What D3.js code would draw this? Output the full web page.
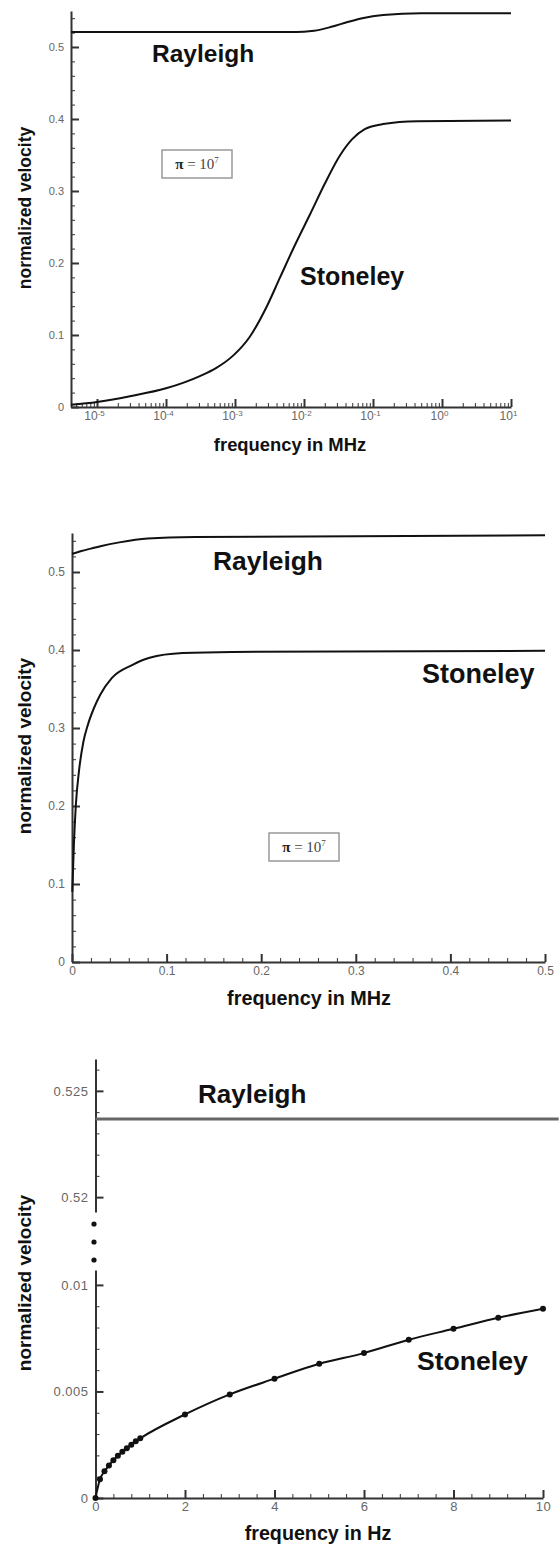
<!DOCTYPE html>
<html>
<head>
    <script src="https://d3js.org/d3.v7.min.js"></script>
    <style>
        body { margin: 0; background: #fff; }
        svg text { font-family: "Liberation Sans", Arial, sans-serif; }
        .tick text { fill: #666; }
        .domain { stroke: #333; stroke-width: 2; }
        .tick line { stroke: #333; }
        .ttl { font-weight: bold; fill: #111; }
    </style>
</head>
<body>
<div id="svg"></div>
<script>
    // panel 1: log frequency (MHz)
    var p1Freq_st = [4.2e-6, 1e-5, 3e-5, 1e-4, 3.1e-4, 5.3e-4, 9.3e-4, 1.65e-3, 2.9e-3, 4.5e-3, 7.4e-3, 1.23e-2, 2.0e-2, 3.3e-2, 5.0e-2, 7.6e-2, 0.14, 0.44, 10]
    var p1Stoneley = [0.003, 0.007, 0.015, 0.026, 0.043, 0.054, 0.071, 0.098, 0.14, 0.18, 0.225, 0.268, 0.31, 0.349, 0.372, 0.386, 0.393, 0.397, 0.398]
    var p1Freq_ra = [4.2e-6, 1e-3, 6e-3, 1e-2, 1.4e-2, 2.5e-2, 4.4e-2, 7e-2, 0.14, 0.5, 10]
    var p1Rayleigh = [0.521, 0.521, 0.521, 0.5213, 0.5225, 0.528, 0.535, 0.540, 0.5445, 0.547, 0.547]

    // panel 2: linear frequency (MHz)
    var p2Freq_st = [0.0003, 0.002, 0.004, 0.0075, 0.012, 0.017, 0.023, 0.030, 0.042, 0.064, 0.082, 0.117, 0.17, 0.5]
    var p2Stoneley = [0.09, 0.15, 0.2, 0.246, 0.282, 0.305, 0.325, 0.343, 0.364, 0.381, 0.39, 0.396, 0.3975, 0.399]
    var p2Freq_ra = [0, 0.01, 0.02, 0.03, 0.05, 0.08, 0.13, 0.5]
    var p2Rayleigh = [0.523, 0.527, 0.530, 0.533, 0.538, 0.543, 0.545, 0.547]

    // panel 3: frequency in Hz, broken y axis
    var p3Freq = [0, 0.1, 0.2, 0.3, 0.4, 0.5, 0.6, 0.7, 0.8, 0.9, 1, 2, 3, 4, 5, 6, 7, 8, 9, 10]
    var p3Stoneley = [0, 0.00088, 0.00125, 0.00153, 0.00177, 0.00198, 0.00217, 0.00234, 0.0025, 0.00266, 0.0028, 0.00392, 0.00486, 0.0056, 0.0063, 0.0068, 0.00743, 0.00794, 0.00846, 0.00888]
    var p3Freq_ra = [0, 10.35]
    var p3Rayleigh = [0.52368, 0.52368]

    var p1xTicks = [1e-5, 1e-4, 1e-3, 1e-2, 1e-1, 1, 10]
    var p1yTicks = [0, 0.1, 0.2, 0.3, 0.4, 0.5]
    var p2xTicks = [0, 0.1, 0.2, 0.3, 0.4, 0.5]
    var p2yTicks = [0, 0.1, 0.2, 0.3, 0.4, 0.5]
    var p3xTicks = [0, 2, 4, 6, 8, 10]
    var p3yTopTicks = [0.52, 0.525]
    var p3yBotTicks = [0, 0.005, 0.01]

    var svg = d3.select("#svg").append("svg")
        .attr("width", 559).attr("height", 1549)

    function pts(xs, ys) { return xs.map(function (d, i) { return [d, ys[i]] }) }

    function drawCurve(g, data, x, y, w) {
        g.append("path")
            .datum(data)
            .attr("d", d3.line().x(function (d) { return x(d[0]) }).y(function (d) { return y(d[1]) }).curve(d3.curveMonotoneX))
            .style("fill", "none").style("stroke", "#111").style("stroke-width", w || 2)
    }

    function yAxis(g, y, ticks, minor, x0, fmt, fs) {
        g.append("g").attr("transform", "translate(" + x0 + ",0)")
            .call(d3.axisLeft(y).tickValues(minor).tickSize(-4).tickSizeOuter(0).tickFormat(""))
            .select(".domain").remove()
        var a = g.append("g").attr("transform", "translate(" + x0 + ",0)")
            .call(d3.axisLeft(y).tickValues(ticks).tickSize(-8).tickSizeOuter(0).tickPadding(7).tickFormat(fmt))
        a.selectAll(".tick line").style("stroke-width", 2)
        a.selectAll(".tick text").style("font-size", fs + "px")
        return a
    }

    function xAxis(g, x, ticks, minor, y0, fmt, fs) {
        g.append("g").attr("transform", "translate(0," + y0 + ")")
            .call(d3.axisBottom(x).tickValues(minor).tickSize(-4).tickSizeOuter(0).tickFormat(""))
            .select(".domain").remove()
        var a = g.append("g").attr("transform", "translate(0," + y0 + ")")
            .call(d3.axisBottom(x).tickValues(ticks).tickSize(-8).tickSizeOuter(0).tickPadding(4).tickFormat(fmt))
        a.selectAll(".tick line").style("stroke-width", 2)
        a.selectAll(".tick text").style("font-size", fs + "px")
        return a
    }

    function piBox(g, cx, cy) {
        g.append("rect").attr("x", cx - 35).attr("y", cy - 14).attr("width", 70).attr("height", 28)
            .style("fill", "#fff").style("stroke", "#999").style("stroke-width", 1.5)
        var t = g.append("text").attr("x", cx).attr("y", cy + 5).attr("text-anchor", "middle")
            .style("font-family", "'Liberation Serif', 'DejaVu Serif', serif").style("font-size", "15px").style("fill", "#444")
        t.append("tspan").text("π").style("font-weight", "bold").style("fill", "#222")
        t.append("tspan").text(" = 10")
        t.append("tspan").attr("dy", -6).style("font-size", "9px").text("7")
    }

    function yTitle(g, x, cy, fs) {
        g.append("text").attr("class", "ttl").attr("transform", "translate(" + x + "," + cy + ") rotate(-90)")
            .attr("text-anchor", "middle").style("font-size", fs + "px").text("normalized velocity")
    }
    function label(g, x, y, fs, txt) {
        g.append("text").attr("class", "ttl").attr("x", x).attr("y", y).style("font-size", fs + "px").text(txt)
    }

    // ---------- panel 1 ----------
    var g1 = svg.append("g")
    var x1 = d3.scaleLog().domain([4.2e-6, 10]).range([71, 511])
    var y1 = d3.scaleLinear().domain([0, 0.55]).range([407, 11])
    var minor1 = []
    for (var e = -6; e <= 0; e++) for (var m = 2; m <= 9; m++) {
        var v = m * Math.pow(10, e)
        if (v >= 4.2e-6 && v < 10) minor1.push(v)
    }
    var minorY1 = d3.range(0.02, 0.55, 0.02).filter(function (d) { return Math.abs(d * 10 - Math.round(d * 10)) > 1e-6 })
    yAxis(g1, y1, p1yTicks, minorY1, 71, function (d) { return d === 0 ? "0" : d3.format(".1f")(d) }, 11)
    var ax1 = xAxis(g1, x1, p1xTicks, minor1, 407, function () { return "" }, 12)
    ax1.selectAll(".tick text").each(function (d) {
        var t = d3.select(this)
        t.text("10").attr("font-size", null).style("font-size", "12px").attr("dx", "-3")
        t.append("tspan").attr("dy", "-0.5em").style("font-size", "8px").text(Math.round(Math.log10(d)))
    })
    drawCurve(g1, pts(p1Freq_ra, p1Rayleigh), x1, y1)
    drawCurve(g1, pts(p1Freq_st, p1Stoneley), x1, y1)
    label(g1, 152, 62, 24.5, "Rayleigh")
    label(g1, 300, 285, 25, "Stoneley")
    piBox(g1, 197, 164)
    yTitle(g1, 31, 208, 17.5)
    g1.append("text").attr("class", "ttl").attr("x", 290).attr("y", 451).attr("text-anchor", "middle")
        .style("font-size", "18.4px").text("frequency in MHz")

    // ---------- panel 2 ----------
    var g2 = svg.append("g")
    var x2 = d3.scaleLinear().domain([0, 0.5]).range([72, 545])
    var y2 = d3.scaleLinear().domain([0, 0.55]).range([962, 533])
    var minorX2 = d3.range(0.02, 0.5, 0.02).filter(function (d) { return Math.abs(d * 10 - Math.round(d * 10)) > 1e-6 })
    yAxis(g2, y2, p2yTicks, minorY1, 72, function (d) { return d === 0 ? "0" : d3.format(".1f")(d) }, 12)
    xAxis(g2, x2, p2xTicks, minorX2, 962, function (d) { return d === 0 ? "0" : d3.format(".1f")(d) }, 12)
    drawCurve(g2, pts(p2Freq_ra, p2Rayleigh), x2, y2)
    drawCurve(g2, pts(p2Freq_st, p2Stoneley), x2, y2)
    label(g2, 213, 570, 26.4, "Rayleigh")
    label(g2, 422, 683, 27, "Stoneley")
    piBox(g2, 304, 847)
    yTitle(g2, 31, 746, 19)
    g2.append("text").attr("class", "ttl").attr("x", 309).attr("y", 1005).attr("text-anchor", "middle")
        .style("font-size", "19.8px").text("frequency in MHz")

    // ---------- panel 3 ----------
    var g3 = svg.append("g")
    var x3 = d3.scaleLinear().domain([0, 10]).range([95.5, 543])
    var y3t = d3.scaleLinear().domain([0.5193, 0.5265]).range([1212, 1059])
    var y3b = d3.scaleLinear().domain([0, 0.0107]).range([1498, 1270])
    var minorX3 = d3.range(0.4, 10, 0.4).filter(function (d) { return Math.abs(d / 2 - Math.round(d / 2)) > 1e-6 })
    var minorT = [0.521, 0.522, 0.523, 0.524, 0.526]
    var minorB = [0.001, 0.002, 0.003, 0.004, 0.006, 0.007, 0.008, 0.009]
    yAxis(g3, y3t, p3yTopTicks, minorT, 95.5, function (d) { return d3.format(d === 0.52 ? ".2f" : ".3f")(d) }, 13)
    yAxis(g3, y3b, p3yBotTicks, minorB, 95.5, function (d) { return d === 0 ? "0" : d === 0.01 ? "0.01" : "0.005" }, 13)
    xAxis(g3, x3, p3xTicks, minorX3, 1498, d3.format("d"), 13)
    g3.selectAll(".tick text").style("letter-spacing", "0.5px")
    // axis break dots
    g3.selectAll("circle.brk").data([0, 1, 2]).enter().append("circle")
        .attr("cx", 94).attr("cy", function (d) { return 1224 + d * 18 })
        .attr("r", 2.6).style("fill", "#111")
    g3.append("path").datum(pts(p3Freq_ra, p3Rayleigh))
        .attr("d", d3.line().x(function (d) { return x3(d[0]) }).y(function (d) { return y3t(d[1]) }))
        .style("fill", "none").style("stroke", "#666").style("stroke-width", 3)
    drawCurve(g3, pts(p3Freq, p3Stoneley), x3, y3b)
    g3.selectAll("circle.pt").data(pts(p3Freq, p3Stoneley)).enter().append("circle")
        .attr("class", "pt").attr("cx", function (d) { return x3(d[0]) }).attr("cy", function (d) { return y3b(d[1]) })
        .attr("r", 3).style("fill", "#111")
    label(g3, 198, 1103, 26, "Rayleigh")
    label(g3, 417, 1370, 26.6, "Stoneley")
    yTitle(g3, 31, 1283, 19)
    g3.append("text").attr("class", "ttl").attr("x", 318).attr("y", 1540).attr("text-anchor", "middle")
        .style("font-size", "19.7px").text("frequency in Hz")
</script>
</body>
</html>
